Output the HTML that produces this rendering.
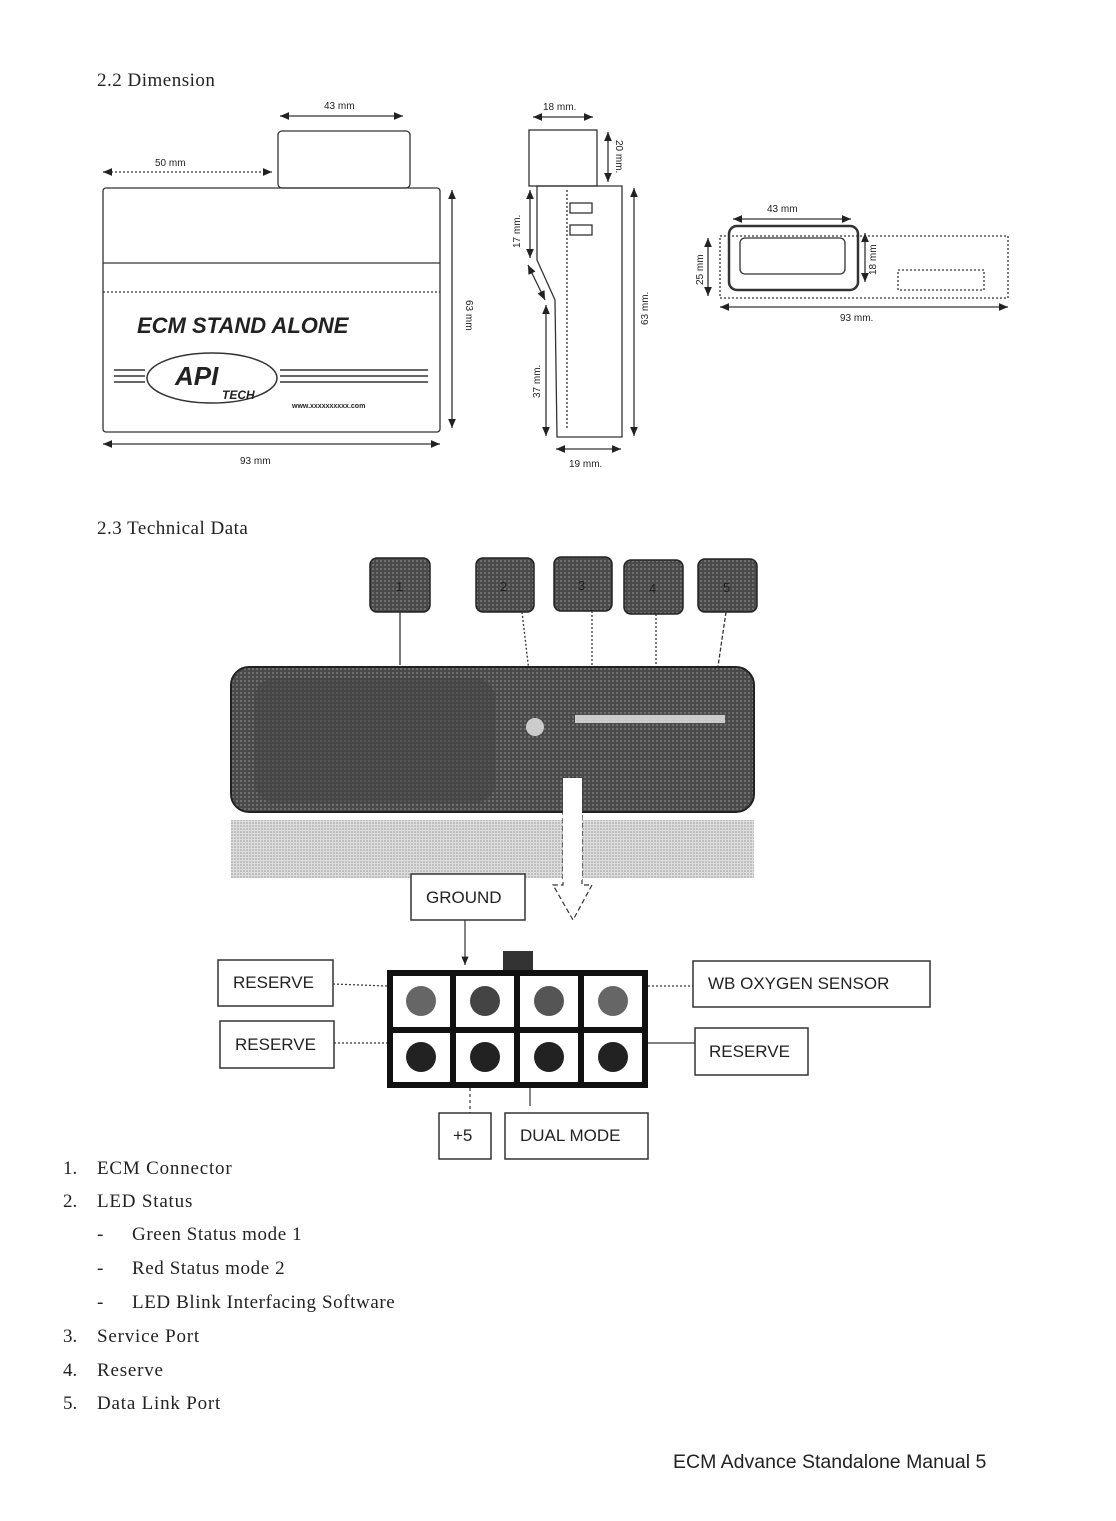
<!DOCTYPE html>
<html><head><meta charset="utf-8"><style>
body{margin:0;background:#fff}
svg{display:block}
text{font-family:"Liberation Sans",sans-serif;fill:#222}
.s{font-family:"Liberation Serif",serif}
</style></head><body>
<svg width="1116" height="1521" viewBox="0 0 1116 1521" xmlns="http://www.w3.org/2000/svg">
<defs>
<marker id="a" markerWidth="8" markerHeight="8" refX="7" refY="4" orient="auto-start-reverse"><path d="M0,1 L7,4 L0,7 Z" fill="#222"/></marker>
<pattern id="dots" width="4" height="4" patternUnits="userSpaceOnUse"><rect width="4" height="4" fill="#4a4a4a"/><circle cx="1" cy="1" r="1" fill="#7a7a7a"/></pattern>
<pattern id="dots2" width="3" height="3" patternUnits="userSpaceOnUse"><rect width="3" height="3" fill="#ddd"/><circle cx="1" cy="1" r="0.8" fill="#999"/></pattern>
</defs>
<text x="97" y="86" font-size="19" class="s" letter-spacing="0.5">2.2 Dimension</text>
<g stroke="#333" fill="none" stroke-width="1.3">
<rect x="278" y="131" width="132" height="57" rx="4"/>
<rect x="103" y="188" width="337" height="244" rx="3"/>
<line x1="103" y1="263" x2="440" y2="263"/>
<line x1="103" y1="292" x2="440" y2="292" stroke-dasharray="2,2"/>
<line x1="280" y1="116" x2="403" y2="116" marker-start="url(#a)" marker-end="url(#a)"/>
<line x1="103" y1="172" x2="272" y2="172" stroke-dasharray="2,2" marker-start="url(#a)" marker-end="url(#a)"/>
<line x1="452" y1="190" x2="452" y2="428" marker-start="url(#a)" marker-end="url(#a)"/>
<line x1="103" y1="444" x2="440" y2="444" marker-start="url(#a)" marker-end="url(#a)"/>
</g>
<text x="324" y="109" font-size="10">43 mm</text>
<text x="155" y="166" font-size="10">50 mm</text>
<text x="240" y="464" font-size="10">93 mm</text>
<text x="466" y="300" font-size="10" transform="rotate(90 466 300)">63 mm</text>
<text x="137" y="333" font-size="22" font-weight="bold" font-style="italic">ECM STAND ALONE</text>
<g stroke="#333" stroke-width="1.5" fill="none">
<line x1="114" y1="370" x2="145" y2="370"/><line x1="114" y1="376" x2="145" y2="376"/><line x1="114" y1="382" x2="145" y2="382"/>
<line x1="280" y1="370" x2="428" y2="370"/><line x1="280" y1="376" x2="428" y2="376"/><line x1="280" y1="382" x2="428" y2="382"/>
<ellipse cx="212" cy="378" rx="65" ry="25"/>
</g>
<text x="175" y="385" font-size="26" font-weight="bold" font-style="italic">API</text>
<text x="222" y="399" font-size="12" font-weight="bold" font-style="italic">TECH</text>
<text x="292" y="408" font-size="7" font-weight="bold">www.xxxxxxxxxx.com</text>
<g stroke="#333" fill="none" stroke-width="1.3">
<rect x="529" y="130" width="68" height="56"/>
<path d="M537,186 H622 V437 H557 L555,300 L537,260 Z"/>
<line x1="567" y1="190" x2="567" y2="430" stroke-dasharray="2,2"/>
<rect x="570" y="203" width="22" height="10"/><rect x="570" y="225" width="22" height="10"/>
<line x1="533" y1="117" x2="593" y2="117" marker-start="url(#a)" marker-end="url(#a)"/>
<line x1="608" y1="132" x2="608" y2="182" marker-start="url(#a)" marker-end="url(#a)"/>
<line x1="634" y1="188" x2="634" y2="436" marker-start="url(#a)" marker-end="url(#a)"/>
<line x1="530" y1="190" x2="530" y2="258" marker-start="url(#a)" marker-end="url(#a)"/>
<line x1="528" y1="265" x2="545" y2="300" marker-start="url(#a)" marker-end="url(#a)"/>
<line x1="546" y1="305" x2="546" y2="436" marker-start="url(#a)" marker-end="url(#a)"/>
<line x1="556" y1="449" x2="621" y2="449" marker-start="url(#a)" marker-end="url(#a)"/>
</g>
<text x="543" y="110" font-size="10">18 mm.</text>
<text x="569" y="467" font-size="10">19 mm.</text>
<text x="616" y="140" font-size="10" transform="rotate(90 616 140)">20 mm.</text>
<text x="648" y="325" font-size="10" transform="rotate(-90 648 325)">63 mm.</text>
<text x="520" y="248" font-size="10" transform="rotate(-90 520 248)">17 mm.</text>
<text x="540" y="398" font-size="10" transform="rotate(-90 540 398)">37 mm.</text>
<g stroke="#333" fill="none" stroke-width="1.3">
<rect x="720" y="236" width="288" height="62" stroke-dasharray="2,2"/>
<rect x="729" y="226" width="129" height="64" rx="8" stroke-width="2.5"/>
<rect x="740" y="238" width="105" height="36" rx="5"/>
<rect x="898" y="270" width="86" height="20" stroke-dasharray="2,2"/>
<line x1="733" y1="219" x2="851" y2="219" marker-start="url(#a)" marker-end="url(#a)"/>
<line x1="708" y1="238" x2="708" y2="296" marker-start="url(#a)" marker-end="url(#a)"/>
<line x1="865" y1="233" x2="865" y2="282" marker-start="url(#a)" marker-end="url(#a)"/>
<line x1="720" y1="307" x2="1008" y2="307" marker-start="url(#a)" marker-end="url(#a)"/>
</g>
<text x="767" y="212" font-size="10">43 mm</text>
<text x="840" y="321" font-size="10">93 mm.</text>
<text x="703" y="285" font-size="10" transform="rotate(-90 703 285)">25 mm</text>
<text x="876" y="275" font-size="10" transform="rotate(-90 876 275)">18 mm</text>
<text x="97" y="534" font-size="19" class="s" letter-spacing="0.5">2.3 Technical Data</text>
<g fill="url(#dots)" stroke="#222" stroke-width="1.5">
<rect x="370" y="558" width="60" height="54" rx="7"/>
<rect x="476" y="558" width="58" height="54" rx="7"/>
<rect x="554" y="557" width="58" height="54" rx="7"/>
<rect x="624" y="560" width="59" height="54" rx="7"/>
<rect x="698" y="559" width="59" height="53" rx="7"/>
</g>
<g font-size="13" fill="#333"><text x="396" y="591">1</text><text x="500" y="591">2</text><text x="578" y="590">3</text><text x="649" y="593">4</text><text x="723" y="592">5</text></g>
<g stroke="#333" stroke-width="1.3">
<line x1="400" y1="612" x2="400" y2="665"/>
<line x1="522" y1="612" x2="530" y2="680" stroke-dasharray="2,2"/>
<line x1="592" y1="611" x2="592" y2="680" stroke-dasharray="2,2"/>
<line x1="656" y1="614" x2="656" y2="680" stroke-dasharray="2,2"/>
<line x1="726" y1="612" x2="716" y2="680" stroke-dasharray="4,2"/>
</g>
<rect x="231" y="667" width="523" height="145" rx="18" fill="url(#dots)" stroke="#222" stroke-width="2"/>
<rect x="255" y="678" width="240" height="125" rx="20" fill="#444" opacity="0.6"/>
<rect x="575" y="715" width="150" height="8" fill="#ccc"/>
<circle cx="535" cy="727" r="9" fill="#ccc"/>
<rect x="231" y="820" width="523" height="58" fill="url(#dots2)"/>
<path d="M563,778 H582 V885 H592 L573,920 L553,885 H563 Z" fill="#fff" stroke="#333" stroke-width="1.2" stroke-dasharray="5,3"/>
<path d="M563,778 H582 V880 H563 Z" fill="#fff"/>
<g fill="#fff" stroke="#333" stroke-width="1.5">
<rect x="411" y="874" width="114" height="46"/>
<rect x="218" y="960" width="115" height="46"/>
<rect x="220" y="1021" width="114" height="47"/>
<rect x="693" y="961" width="237" height="46"/>
<rect x="695" y="1028" width="113" height="47"/>
<rect x="439" y="1113" width="52" height="46"/>
<rect x="505" y="1113" width="143" height="46"/>
</g>
<g font-size="17" fill="#222">
<text x="426" y="903">GROUND</text>
<text x="233" y="988">RESERVE</text>
<text x="235" y="1050">RESERVE</text>
<text x="708" y="989">WB OXYGEN SENSOR</text>
<text x="709" y="1057">RESERVE</text>
<text x="453" y="1141">+5</text>
<text x="520" y="1141">DUAL MODE</text>
</g>
<g stroke="#333" stroke-width="1.2" fill="none">
<line x1="465" y1="920" x2="465" y2="965" marker-end="url(#a)"/>
<line x1="333" y1="984" x2="387" y2="986" stroke-dasharray="2,2"/>
<line x1="334" y1="1043" x2="387" y2="1043" stroke-dasharray="2,2"/>
<line x1="648" y1="986" x2="693" y2="986" stroke-dasharray="2,2"/>
<line x1="648" y1="1043" x2="695" y2="1043"/>
<line x1="470" y1="1088" x2="470" y2="1113" stroke-dasharray="3,3"/>
<line x1="530" y1="1088" x2="530" y2="1106"/>
</g>
<rect x="503" y="951" width="30" height="20" fill="#333"/>
<rect x="387" y="970" width="261" height="118" fill="#111"/>
<g fill="#fff">
<rect x="393" y="976" width="57" height="51"/><rect x="456" y="976" width="58" height="51"/><rect x="520" y="976" width="58" height="51"/><rect x="584" y="976" width="58" height="51"/>
<rect x="393" y="1033" width="57" height="49"/><rect x="456" y="1033" width="58" height="49"/><rect x="520" y="1033" width="58" height="49"/><rect x="584" y="1033" width="58" height="49"/>
</g>
<g>
<circle cx="421" cy="1001" r="15" fill="#666"/><circle cx="485" cy="1001" r="15" fill="#444"/><circle cx="549" cy="1001" r="15" fill="#555"/><circle cx="613" cy="1001" r="15" fill="#666"/>
<circle cx="421" cy="1057" r="15" fill="#222"/><circle cx="485" cy="1057" r="15" fill="#222"/><circle cx="549" cy="1057" r="15" fill="#222"/><circle cx="613" cy="1057" r="15" fill="#222"/>
</g>
<g font-size="19">
<text x="63" y="1174" class="s">1.</text><text x="97" y="1174" class="s" letter-spacing="0.8">ECM Connector</text>
<text x="63" y="1207" class="s">2.</text><text x="97" y="1207" class="s" letter-spacing="0.8">LED Status</text>
<text x="97" y="1240" class="s">-</text><text x="132" y="1240" class="s" letter-spacing="0.6">Green Status mode 1</text>
<text x="97" y="1274" class="s">-</text><text x="132" y="1274" class="s" letter-spacing="0.6">Red Status mode 2</text>
<text x="97" y="1308" class="s">-</text><text x="132" y="1308" class="s" letter-spacing="0.6">LED Blink Interfacing Software</text>
<text x="63" y="1342" class="s">3.</text><text x="97" y="1342" class="s" letter-spacing="0.8">Service Port</text>
<text x="63" y="1376" class="s">4.</text><text x="97" y="1376" class="s" letter-spacing="0.8">Reserve</text>
<text x="63" y="1409" class="s">5.</text><text x="97" y="1409" class="s" letter-spacing="0.8">Data Link Port</text>
</g>
<text x="673" y="1468" font-size="19.5">ECM Advance Standalone Manual 5</text>
</svg>
</body></html>
